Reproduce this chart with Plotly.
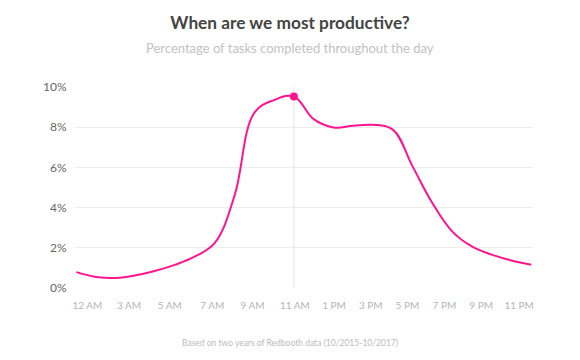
import plotly.graph_objects as go

# Data (hour of day -> % of tasks completed)
hours = list(range(24))
pct = [0.79, 0.55, 0.50, 0.63, 0.86, 1.16, 1.57, 2.24, 4.60, 8.72, 9.35, 9.53,
       8.40, 7.99, 8.07, 8.12, 7.88, 6.05, 4.23, 2.82, 2.07, 1.66, 1.37, 1.16]
tick_labels = ["12 AM", "3 AM", "5 AM", "7 AM", "9 AM", "11 AM",
               "1 PM", "3 PM", "5 PM", "7 PM", "9 PM", "11 PM"]
tick_pos = [0.56, 2.66, 4.72, 6.87, 8.91, 11.05, 13.03, 14.89, 16.74, 18.61, 20.47, 22.39]
y_ticks = [0, 2, 4, 6, 8, 10]
peak_hour = 11

PINK = "#ff1490"
FONT = "Lato, 'Open Sans', sans-serif"

fig = go.Figure()
fig.add_trace(go.Scatter(
    x=hours, y=pct, mode="lines",
    line=dict(color=PINK, width=2, shape="spline", smoothing=1.1),
    hoverinfo="skip", showlegend=False,
))
fig.add_trace(go.Scatter(
    x=[peak_hour], y=[pct[hours.index(peak_hour)]], mode="markers",
    marker=dict(color=PINK, size=8),
    hoverinfo="skip", showlegend=False,
))

fig.add_shape(type="line", xref="x", yref="y",
              x0=peak_hour, x1=peak_hour, y0=-0.4, y1=10.3,
              line=dict(color="#eeeeee", width=1.5), layer="below")

fig.update_layout(
    width=580, height=360,
    margin=dict(l=74, r=48, t=87, b=72),
    paper_bgcolor="white", plot_bgcolor="white",
    font=dict(family=FONT),
    title=dict(text="<b>When are we most productive?</b>",
               x=0.5, xref="container", y=1 - 22.7 / 360, yref="container",
               xanchor="center", yanchor="middle",
               font=dict(size=17.3, color="#444444", family=FONT)),
    xaxis=dict(range=[-0.12, 23.04], tickmode="array", tickvals=tick_pos,
               ticktext=tick_labels, showgrid=False, zeroline=False,
               showline=False, ticks="outside", ticklen=8, tickcolor="rgba(0,0,0,0)",
               tickfont=dict(size=10, color="#b5b5b5", family=FONT)),
    yaxis=dict(range=[0, 10], tickmode="array", tickvals=y_ticks,
               ticktext=[f"{v}%" for v in y_ticks], showgrid=True,
               gridcolor="#ececec", gridwidth=1, zeroline=False, showline=False,
               ticks="outside", ticklen=4, tickcolor="rgba(0,0,0,0)",
               tickfont=dict(size=12, color="#666666", family=FONT)),
    annotations=[
        dict(text="Percentage of tasks completed throughout the day",
             xref="paper", yref="paper", x=(290 - 74.3) / 457.4, y=(288.3 - 48.5) / 201,
             xanchor="center", yanchor="middle", showarrow=False,
             font=dict(size=13, color="#c2c2c2", family=FONT)),
        dict(text="Based on two years of Redbooth data (10/2015-10/2017)",
             xref="paper", yref="paper", x=(290 - 74.3) / 457.4, y=(288.3 - 343) / 201,
             xanchor="center", yanchor="middle", showarrow=False,
             font=dict(size=8.5, color="#bbbbbb", family=FONT)),
    ],
)

fig.write_html("out.html", config={"displayModeBar": False},
               post_script="document.body.style.margin='0';")
